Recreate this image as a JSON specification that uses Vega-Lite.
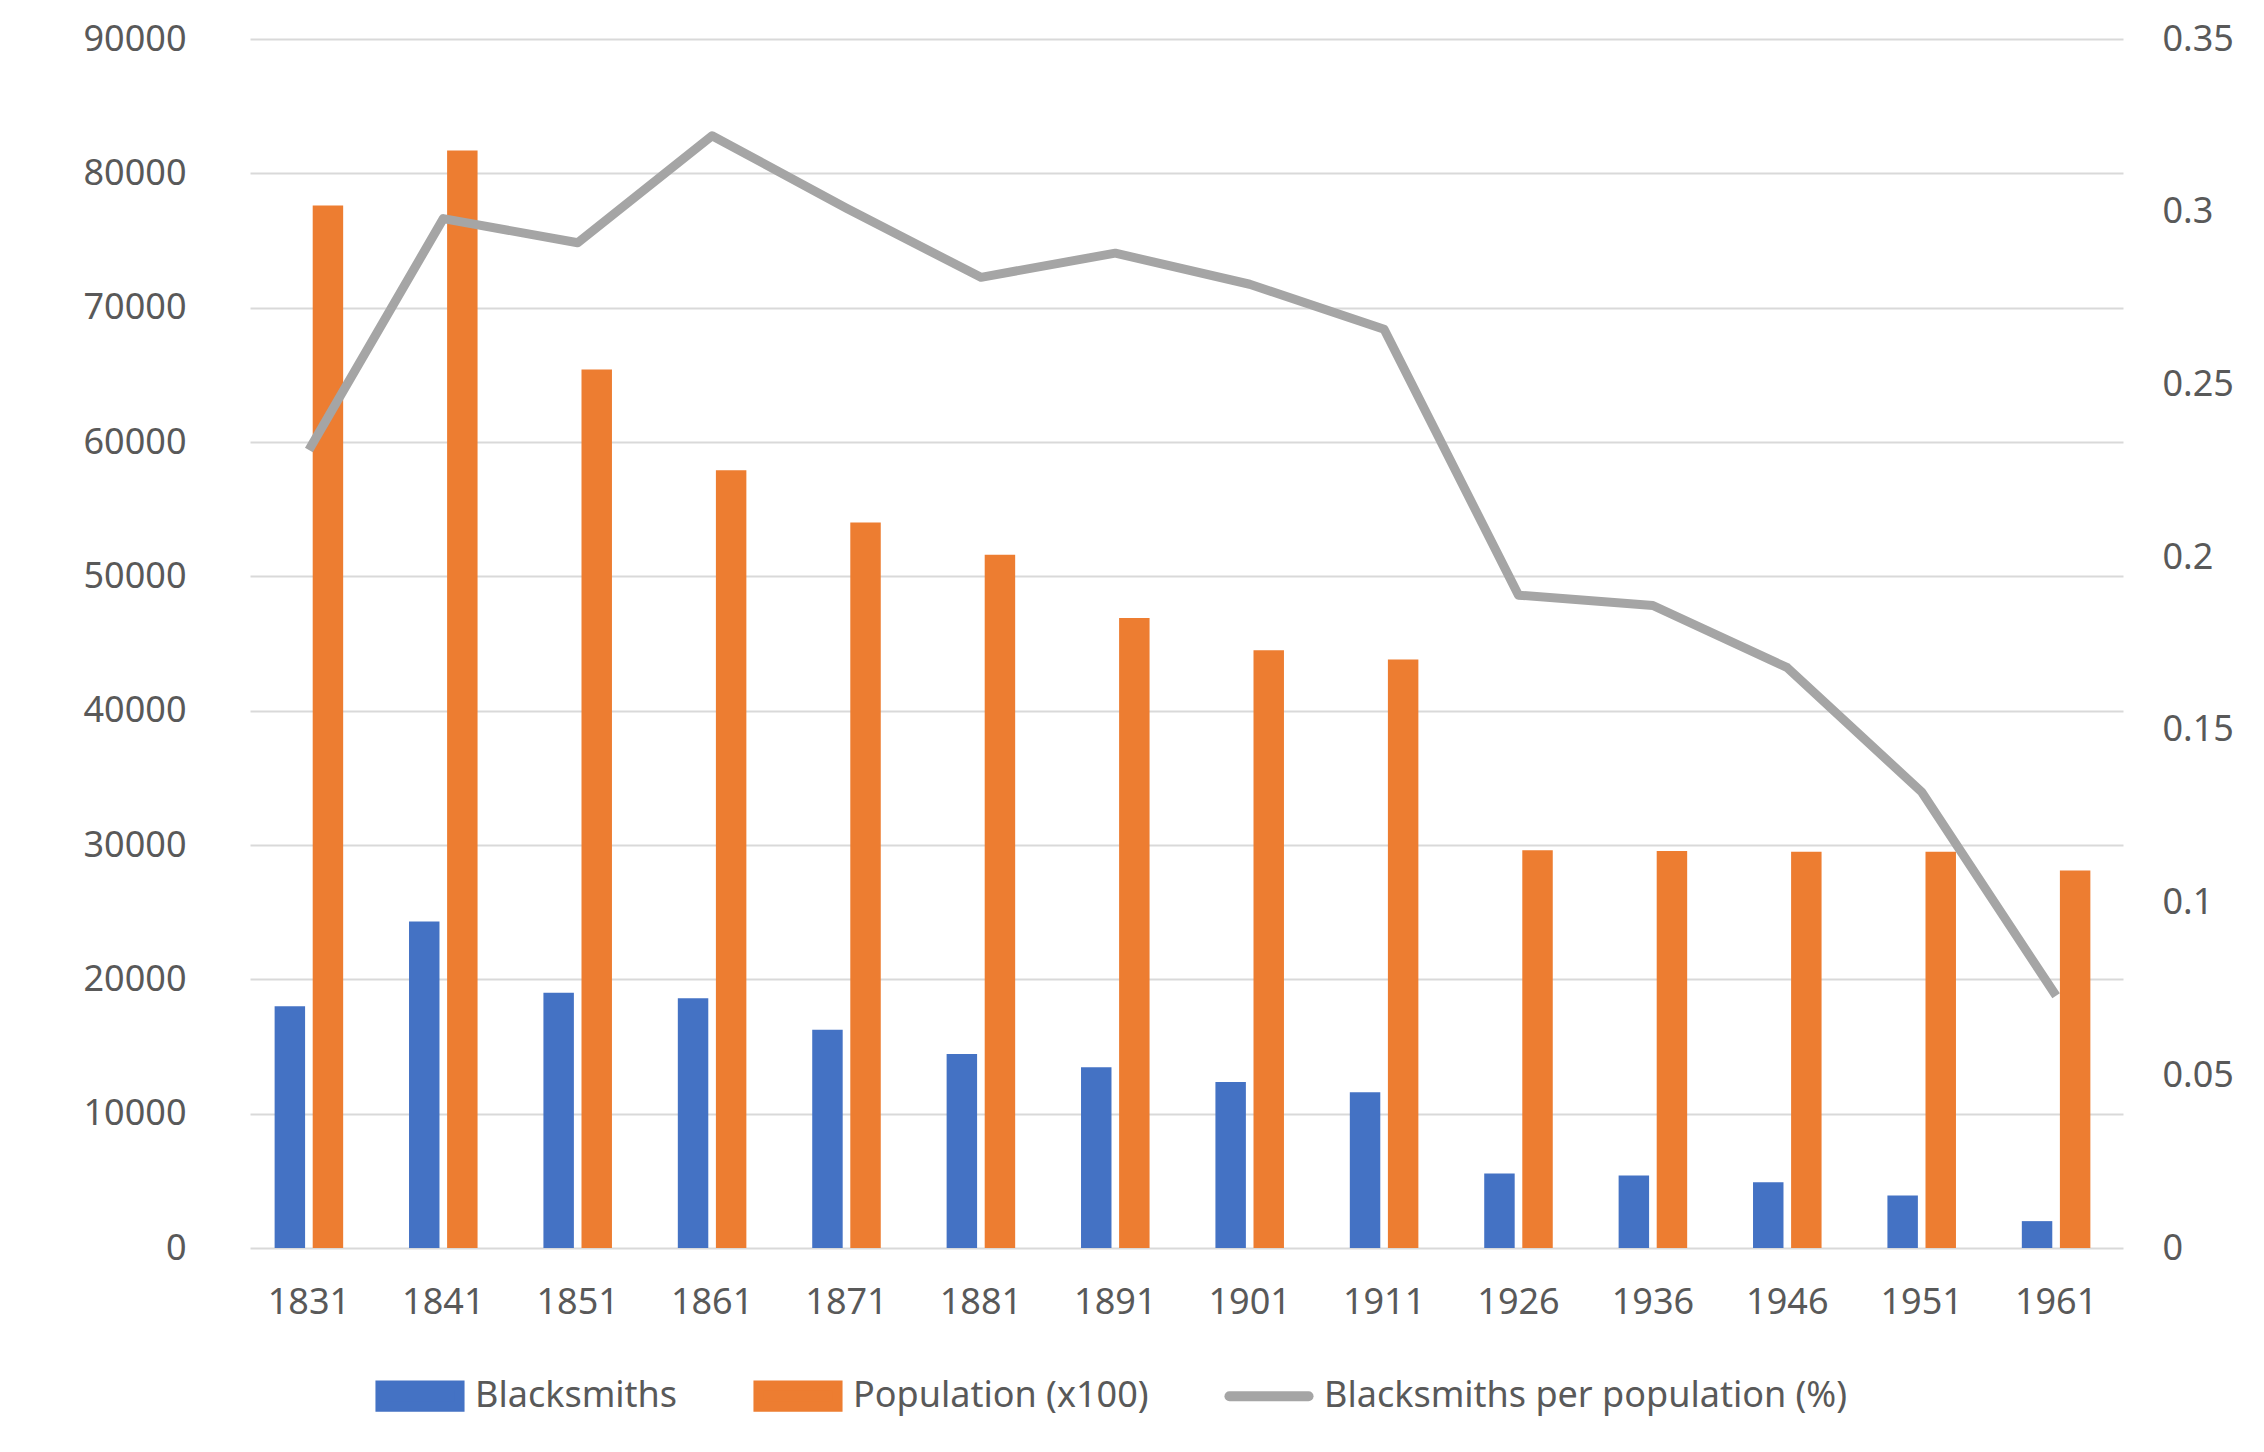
{
  "$schema": "https://vega.github.io/schema/vega-lite/v6.json",
  "width": 1873,
  "height": 1209,
  "autosize": {"type": "none"},
  "padding": {"left": 250, "top": 39, "right": 141, "bottom": 204},
  "background": "white",
  "config": {
    "view": {"stroke": null},
    "font": "Noto Sans",
    "axis": {
      "labelFont": "Noto Sans",
      "labelFontSize": 36,
      "labelColor": "#595959",
      "domain": false,
      "ticks": false,
      "title": null
    },
    "legend": {"labelFont": "Noto Sans", "labelFontSize": 36, "labelColor": "#595959"}
  },
  "datasets": {
    "bars": [
      {"year": "1831", "series": "Blacksmiths", "value": 18000},
      {"year": "1841", "series": "Blacksmiths", "value": 24300},
      {"year": "1851", "series": "Blacksmiths", "value": 19000},
      {"year": "1861", "series": "Blacksmiths", "value": 18600},
      {"year": "1871", "series": "Blacksmiths", "value": 16250},
      {"year": "1881", "series": "Blacksmiths", "value": 14450},
      {"year": "1891", "series": "Blacksmiths", "value": 13450},
      {"year": "1901", "series": "Blacksmiths", "value": 12350},
      {"year": "1911", "series": "Blacksmiths", "value": 11600},
      {"year": "1926", "series": "Blacksmiths", "value": 5550},
      {"year": "1936", "series": "Blacksmiths", "value": 5400},
      {"year": "1946", "series": "Blacksmiths", "value": 4900},
      {"year": "1951", "series": "Blacksmiths", "value": 3900},
      {"year": "1961", "series": "Blacksmiths", "value": 2000},
      {"year": "1831", "series": "Population (x100)", "value": 77600},
      {"year": "1841", "series": "Population (x100)", "value": 81700},
      {"year": "1851", "series": "Population (x100)", "value": 65400},
      {"year": "1861", "series": "Population (x100)", "value": 57900},
      {"year": "1871", "series": "Population (x100)", "value": 54000},
      {"year": "1881", "series": "Population (x100)", "value": 51600},
      {"year": "1891", "series": "Population (x100)", "value": 46900},
      {"year": "1901", "series": "Population (x100)", "value": 44500},
      {"year": "1911", "series": "Population (x100)", "value": 43800},
      {"year": "1926", "series": "Population (x100)", "value": 29600},
      {"year": "1936", "series": "Population (x100)", "value": 29550},
      {"year": "1946", "series": "Population (x100)", "value": 29500},
      {"year": "1951", "series": "Population (x100)", "value": 29500},
      {"year": "1961", "series": "Population (x100)", "value": 28100}
    ],
    "ratio": [
      {"year": "1831", "series": "Blacksmiths per population (%)", "value": 0.231},
      {"year": "1841", "series": "Blacksmiths per population (%)", "value": 0.298},
      {"year": "1851", "series": "Blacksmiths per population (%)", "value": 0.291},
      {"year": "1861", "series": "Blacksmiths per population (%)", "value": 0.322},
      {"year": "1871", "series": "Blacksmiths per population (%)", "value": 0.301},
      {"year": "1881", "series": "Blacksmiths per population (%)", "value": 0.281},
      {"year": "1891", "series": "Blacksmiths per population (%)", "value": 0.288},
      {"year": "1901", "series": "Blacksmiths per population (%)", "value": 0.279},
      {"year": "1911", "series": "Blacksmiths per population (%)", "value": 0.266},
      {"year": "1926", "series": "Blacksmiths per population (%)", "value": 0.189},
      {"year": "1936", "series": "Blacksmiths per population (%)", "value": 0.186},
      {"year": "1946", "series": "Blacksmiths per population (%)", "value": 0.168},
      {"year": "1951", "series": "Blacksmiths per population (%)", "value": 0.132},
      {"year": "1961", "series": "Blacksmiths per population (%)", "value": 0.073}
    ]
  },
  "encoding": {
    "x": {
      "field": "year",
      "type": "ordinal",
      "sort": null,
      "scale": {"paddingInner": 0.49, "paddingOuter": 0.213, "align": 0.43},
      "axis": {"labelAngle": 0, "labelPadding": 37, "grid": false}
    }
  },
  "layer": [
    {
      "data": {"name": "bars"},
      "mark": {"type": "bar"},
      "encoding": {
        "xOffset": {
          "field": "series",
          "type": "nominal",
          "sort": ["Blacksmiths", "Population (x100)"],
          "scale": {"paddingInner": 0.2, "paddingOuter": 0}
        },
        "y": {
          "field": "value",
          "type": "quantitative",
          "scale": {"domain": [0, 90000]},
          "axis": {
            "orient": "left",
            "values": [0, 10000, 20000, 30000, 40000, 50000, 60000, 70000, 80000, 90000],
            "format": "d",
            "grid": true,
            "gridColor": "#D9D9D9",
            "gridWidth": 2,
            "labelPadding": 64
          }
        },
        "color": {
          "field": "series",
          "type": "nominal",
          "scale": {
            "domain": ["Blacksmiths", "Population (x100)", "Blacksmiths per population (%)"],
            "range": ["#4472C4", "#ED7D31", "#A5A5A5"]
          },
          "legend": {
            "title": null,
            "orient": "none",
            "direction": "horizontal",
            "legendX": 125,
            "legendY": 1312,
            "symbolSize": 6255,
            "labelOffset": 10,
            "columnPadding": 60,
            "labelLimit": 1000,
            "encode": {
              "symbols": {
                "update": {
                  "shape": {"signal": "datum.value == 'Blacksmiths per population (%)' ? 'M-1,-0.27M1,0.27M-1,0H1' : 'M-1,-0.27H1V0.27H-1Z'"},
                  "fill": {"signal": "datum.value == 'Blacksmiths' ? '#4472C4' : datum.value == 'Population (x100)' ? '#ED7D31' : 'transparent'"},
                  "stroke": {"signal": "datum.value == 'Blacksmiths per population (%)' ? '#A5A5A5' : 'transparent'"},
                  "strokeWidth": {"value": 10},
                  "strokeCap": {"value": "round"},
                  "opacity": {"value": 1}
                }
              }
            }
          }
        }
      }
    },
    {
      "data": {"name": "ratio"},
      "mark": {"type": "line", "strokeWidth": 9, "strokeJoin": "round"},
      "encoding": {
        "y": {
          "field": "value",
          "type": "quantitative",
          "scale": {"domain": [0, 0.35]},
          "axis": {
            "orient": "right",
            "values": [0, 0.05, 0.1, 0.15, 0.2, 0.25, 0.3, 0.35],
            "format": "~g",
            "grid": false,
            "labelPadding": 39
          }
        },
        "color": {"field": "series", "type": "nominal"}
      }
    }
  ],
  "resolve": {"scale": {"y": "independent"}}
}
